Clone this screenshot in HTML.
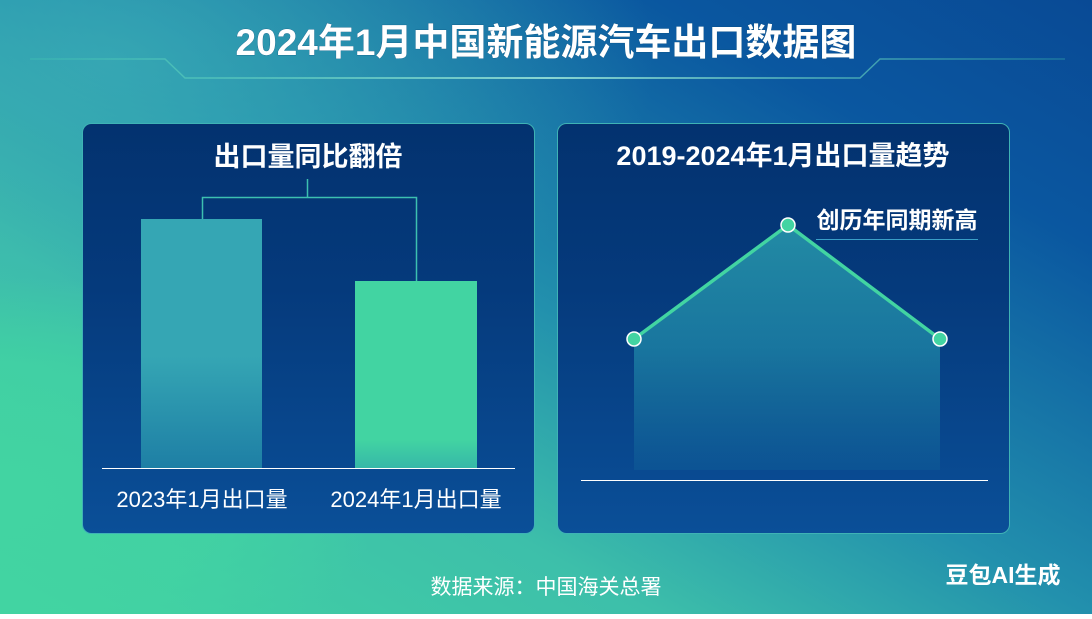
<!DOCTYPE html>
<html><head><meta charset="utf-8"><style>
html,body{margin:0;padding:0}
body{width:1092px;height:614px;overflow:hidden;font-family:"Liberation Sans","Noto Sans CJK SC",sans-serif}
</style></head><body>
<svg width="1092" height="614" viewBox="0 0 1092 614" xmlns="http://www.w3.org/2000/svg" font-family="Liberation Sans, Noto Sans CJK SC, sans-serif">
<defs>
<linearGradient id="bg" x1="0" y1="1" x2="1" y2="0">
<stop offset="0" stop-color="#42d4a2"/>
<stop offset="0.3" stop-color="#3dbfaa"/>
<stop offset="0.5" stop-color="#2290ad"/>
<stop offset="0.8" stop-color="#0a57a0"/>
<stop offset="1" stop-color="#094a95"/>
</linearGradient>
<radialGradient id="tl" cx="0.1" cy="0.1" r="0.5">
<stop offset="0" stop-color="#3eb0b6" stop-opacity="0.7"/>
<stop offset="1" stop-color="#3eb0b6" stop-opacity="0"/>
</radialGradient>
<radialGradient id="gl" cx="0" cy="0.8" r="0.35">
<stop offset="0" stop-color="#42d4a2"/>
<stop offset="0.6" stop-color="#42d4a2" stop-opacity="0.7"/>
<stop offset="1" stop-color="#42d4a2" stop-opacity="0"/>
</radialGradient>
<linearGradient id="panel" x1="0" y1="0" x2="0" y2="1">
<stop offset="0" stop-color="#03326f"/>
<stop offset="0.4" stop-color="#053a7c"/>
<stop offset="1" stop-color="#0a4f98"/>
</linearGradient>
<linearGradient id="b1" x1="0" y1="0" x2="0" y2="1">
<stop offset="0" stop-color="#35a6b4"/>
<stop offset="0.55" stop-color="#35a6b4"/>
<stop offset="1" stop-color="#1e7fa5"/>
</linearGradient>
<linearGradient id="b2" x1="0" y1="0" x2="0" y2="1">
<stop offset="0" stop-color="#42d4a2"/>
<stop offset="0.85" stop-color="#42d4a2"/>
<stop offset="1" stop-color="#36b8a8"/>
</linearGradient>
<linearGradient id="area" x1="0" y1="0" x2="0" y2="1">
<stop offset="0" stop-color="#2aa0b0" stop-opacity="0.8"/>
<stop offset="0.5" stop-color="#1f88a8" stop-opacity="0.75"/>
<stop offset="1" stop-color="#1f88a8" stop-opacity="0.15"/>
</linearGradient>
<linearGradient id="hl" x1="0" y1="0" x2="1" y2="0">
<stop offset="0" stop-color="#45d0b0" stop-opacity="0.3"/>
<stop offset="0.5" stop-color="#aef5e0"/>
<stop offset="1" stop-color="#45d0b0" stop-opacity="0.3"/>
</linearGradient>
</defs>
<rect width="1092" height="614" fill="url(#bg)"/>
<rect width="1092" height="614" fill="url(#tl)"/>
<rect width="1092" height="614" fill="url(#gl)"/>
<polyline points="30,59 165,59 185,78 860,78 880,59 1065,59" fill="none" stroke="url(#hl)" stroke-width="1.5"/>
<text x="546" y="55" text-anchor="middle" font-size="37" font-weight="bold" fill="#fff" stroke="#0b4d7a" stroke-width="0.5" style="paint-order:stroke">2024年1月中国新能源汽车出口数据图</text>
<rect x="82.5" y="123.5" width="452" height="410" rx="9" fill="url(#panel)" stroke="#3fb3b5" stroke-width="1"/>
<text x="308" y="166" text-anchor="middle" font-size="27" font-weight="bold" fill="#fff">出口量同比翻倍</text>
<rect x="141" y="219" width="121" height="249" fill="url(#b1)"/>
<rect x="355" y="281" width="122" height="187" fill="url(#b2)"/>
<path d="M307.5,179 V197.5 M202.5,219 V197.5 H416.5 V281" fill="none" stroke="#3cc0b0" stroke-width="1.5"/>
<line x1="102" y1="468.5" x2="515" y2="468.5" stroke="#fff" stroke-width="1"/>
<text x="202" y="507" text-anchor="middle" font-size="22" fill="#fff">2023年1月出口量</text>
<text x="416" y="507" text-anchor="middle" font-size="22" fill="#fff">2024年1月出口量</text>
<rect x="557.5" y="123.5" width="452" height="410" rx="9" fill="url(#panel)" stroke="#3fb3b5" stroke-width="1"/>
<text x="783" y="165" text-anchor="middle" font-size="27" font-weight="bold" fill="#fff">2019-2024年1月出口量趋势</text>
<polygon points="634,339 788,225 940,339 940,470 634,470" fill="url(#area)"/>
<polyline points="634,339 788,225 940,339" fill="none" stroke="#42d4a2" stroke-width="3.5"/>
<circle cx="634" cy="339" r="7" fill="#42d4a2" stroke="#fff" stroke-width="1.5"/>
<circle cx="788" cy="225" r="7" fill="#42d4a2" stroke="#fff" stroke-width="1.5"/>
<circle cx="940" cy="339" r="7" fill="#42d4a2" stroke="#fff" stroke-width="1.5"/>
<text x="897" y="228" text-anchor="middle" font-size="23" font-weight="bold" fill="#fff">创历年同期新高</text>
<line x1="816" y1="239.5" x2="978" y2="239.5" stroke="#3a9fc8" stroke-width="1"/>
<line x1="581" y1="480.5" x2="988" y2="480.5" stroke="#fff" stroke-width="1"/>
<text x="546" y="594" text-anchor="middle" font-size="21" fill="#fff">数据来源：中国海关总署</text>
<text x="1003" y="583" text-anchor="middle" font-size="23" font-weight="bold" fill="#fff">豆包AI生成</text>
</svg>
</body></html>
